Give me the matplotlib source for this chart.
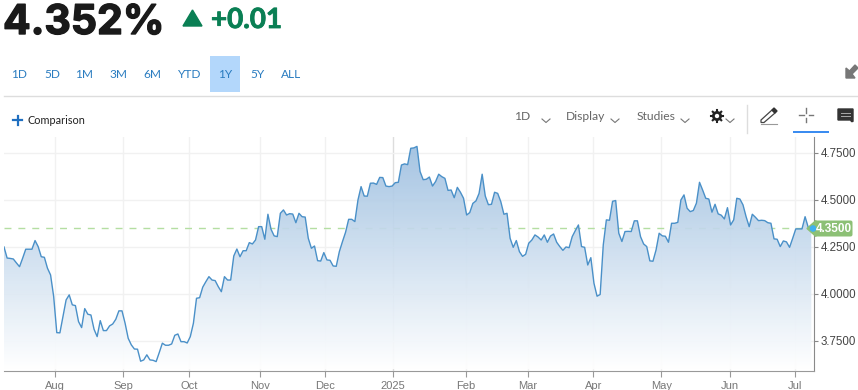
import matplotlib
matplotlib.use("Agg")
import matplotlib.pyplot as plt
import matplotlib.patheffects as pe
from matplotlib.patches import Polygon, Rectangle, FancyBboxPatch, Circle
import numpy as np

# daily yield
yields = [
    4.250, 4.191, 4.189, 4.186, 4.165, 4.145, 4.190, 4.238, 4.238, 4.238, 4.284, 4.252, 4.198, 4.195, 4.137,
    4.101, 3.986, 3.794, 3.793, 3.879, 3.968, 3.995, 3.942, 3.938, 3.853, 3.821, 3.922, 3.892, 3.888, 3.812,
    3.773, 3.858, 3.805, 3.805, 3.830, 3.840, 3.865, 3.910, 3.910, 3.844, 3.764, 3.729, 3.707, 3.706, 3.642,
    3.649, 3.676, 3.649, 3.647, 3.640, 3.688, 3.738, 3.727, 3.727, 3.734, 3.780, 3.787, 3.746, 3.746, 3.739,
    3.773, 3.844, 3.977, 3.980, 4.036, 4.065, 4.092, 4.074, 4.071, 4.039, 4.012, 4.092, 4.074, 4.074, 4.202,
    4.239, 4.198, 4.230, 4.230, 4.273, 4.266, 4.287, 4.358, 4.358, 4.291, 4.424, 4.344, 4.309, 4.305, 4.429,
    4.447, 4.420, 4.427, 4.425, 4.379, 4.429, 4.411, 4.409, 4.296, 4.243, 4.255, 4.177, 4.175, 4.220, 4.181,
    4.179, 4.149, 4.147, 4.225, 4.278, 4.328, 4.397, 4.397, 4.385, 4.500, 4.571, 4.521, 4.520, 4.589, 4.590,
    4.583, 4.620, 4.619, 4.574, 4.571, 4.574, 4.592, 4.594, 4.686, 4.692, 4.688, 4.775, 4.777, 4.785, 4.651,
    4.608, 4.610, 4.622, 4.574, 4.598, 4.637, 4.624, 4.615, 4.551, 4.553, 4.512, 4.567, 4.541, 4.509, 4.420,
    4.433, 4.482, 4.495, 4.535, 4.637, 4.521, 4.475, 4.477, 4.541, 4.535, 4.491, 4.424, 4.429, 4.296, 4.248,
    4.284, 4.225, 4.200, 4.211, 4.270, 4.287, 4.314, 4.303, 4.287, 4.314, 4.275, 4.308, 4.319, 4.275, 4.252,
    4.232, 4.250, 4.246,
    4.305, 4.337, 4.367, 4.252, 4.248, 4.154, 4.193, 4.057, 3.988, 3.997, 4.261, 4.394, 4.392, 4.493, 4.497,
    4.323, 4.279, 4.332, 4.333, 4.332, 4.389, 4.389, 4.305, 4.266, 4.252, 4.176, 4.174, 4.234, 4.323, 4.309,
    4.307, 4.275, 4.376, 4.376, 4.381, 4.500, 4.527, 4.456, 4.438, 4.444, 4.483, 4.594, 4.553, 4.509, 4.505,
    4.435, 4.477, 4.426, 4.419, 4.399, 4.459, 4.367, 4.394, 4.509, 4.505, 4.474, 4.411, 4.358, 4.424, 4.408,
    4.390, 4.392, 4.390, 4.379, 4.376, 4.293, 4.291, 4.252, 4.282, 4.277, 4.248, 4.296, 4.346, 4.346, 4.346,
    4.411, 4.355, 4.350,
]
month_labels = ["Aug", "Sep", "Oct", "Nov", "Dec", "2025", "Feb", "Mar", "Apr", "May", "Jun", "Jul"]
month_pos = [16.3, 38.4, 59.6, 82.6, 103.4, 125.3, 148.8, 168.7, 189.8, 211.7, 233.8, 254.7]
y_ticks = [3.75, 4.0, 4.25, 4.5, 4.75]
last_price = 4.35
ranges = ["1D", "5D", "1M", "3M", "6M", "YTD", "1Y", "5Y", "ALL"]
range_x = [19.5, 52, 84, 118, 152, 190, 225, 257, 291]

W, H = 858, 390
fig = plt.figure(figsize=(W / 100, H / 100), dpi=100)
plt.rcParams["font.family"] = ["Lato", "DejaVu Sans"]

# chart axes, placed in pixels
L, R, T, B = 4, 814, 137, 371
ax = fig.add_axes([L / W, 1 - B / H, (R - L) / W, (B - T) / H])
x = np.arange(len(yields))
xmax = 810 / 3.105

ax.spines["top"].set_visible(False)
ax.spines["left"].set_visible(False)
ax.spines["right"].set_color("#8a8a8a")
ax.spines["bottom"].set_color("#999999")
ax.yaxis.tick_right()
ax.set_yticks(y_ticks)
ax.set_yticklabels(["%.4f" % v for v in y_ticks], fontsize=8.3, color="#444444", family="Liberation Sans")
ax.set_xticks(month_pos)
ax.set_xticklabels(month_labels, fontsize=8, color="#777777", family="Liberation Sans")
ax.tick_params(axis="y", length=3, width=0.8, color="#888888", pad=2)
ax.tick_params(axis="x", length=4, width=0.8, color="#999999", pad=3)
ax.grid(True, color="#f1f1f1", linewidth=1)
ax.get_xgridlines()[5].set_color("#dddddd")
ax.set_axisbelow(True)

ax.axhline(last_price, color="#b4dea2", linewidth=1, dashes=(5, 5), zorder=1)

# gradient under the line
grad = np.linspace(0, 1, 256).reshape(-1, 1)
cm = matplotlib.colors.LinearSegmentedColormap.from_list("g", ["#9dbfe0", "#ffffff"])
im = ax.imshow(grad, extent=[0, xmax, 3.60, 4.80], aspect="auto", cmap=cm, alpha=0.92, zorder=2)
poly = Polygon(np.column_stack([np.r_[x[0], x, x[-1]], np.r_[3.590, yields, 3.590]]), closed=True,
               transform=ax.transData, facecolor="none", edgecolor="none")
ax.add_patch(poly)
im.set_clip_path(poly)
ax.set_xlim(0, xmax)
ax.set_ylim(3.590, 4.835)
ax.plot(x, yields, color="#4a90c8", linewidth=1.0, zorder=3)

# header and toolbar, pixel coordinates
ui = fig.add_axes([0, 0, 1, 1], zorder=5)
ui.set_xlim(0, W)
ui.set_ylim(H, 0)
ui.axis("off")
ui.patch.set_alpha(0)

big = ui.text(3, 34, "4.352%", fontsize=29.5, fontweight="bold", family="Inter", color="#1a1a1a", va="baseline")
big.set_path_effects([pe.withStroke(linewidth=1.0, foreground="#1a1a1a")])
ui.add_patch(Polygon([(183, 26), (202, 26), (192.5, 10)], color="#0a7f54"))
chg = ui.text(211, 28, "+0.01", fontsize=20, fontweight="bold", color="#0a7f54", va="baseline")
chg.set_path_effects([pe.withStroke(linewidth=0.6, foreground="#0a7f54")])

ui.add_patch(Rectangle((210, 56), 30, 36, color="#b3d7fb", lw=0))
for lab, px in zip(ranges, range_x):
    ui.text(px, 74, lab, fontsize=8.6, color="#2a7cc0", ha="center", va="center")
ui.plot([4, 858], [95.5, 95.5], color="#dddddd", lw=1)

ui.plot([13, 22], [120, 120], color="#1f6fc0", lw=1.6)
ui.plot([17.5, 17.5], [115.5, 124.5], color="#1f6fc0", lw=1.6)
ui.text(28, 120, "Comparison", fontsize=7.8, color="#222222", va="center")

for lab, px in [("1D", 522), ("Display", 586), ("Studies", 656)]:
    ui.text(px, 117, lab, fontsize=8.7, color="#666666", ha="center", va="center")
for px in [546, 615, 685, 730]:
    ui.plot([px - 4, px, px + 4], [119, 122.5, 119], color="#777777", lw=0.8)

# gear
ui.add_patch(Circle((717, 116), 3.6, fc="none", ec="#222222", lw=2))
for a in np.arange(0, 360, 45):
    ca, sa = np.cos(np.radians(a)), np.sin(np.radians(a))
    ui.plot([717 + 4 * ca, 717 + 6 * ca], [116 + 4 * sa, 116 + 6 * sa], color="#222222", lw=1.5)

ui.plot([746.5, 746.5], [105, 133], color="#dddddd", lw=1)

# pencil
ui.add_patch(Polygon([(761, 120), (772, 110), (775, 113), (764, 122.5), (761, 122.5)], fc="white", ec="#444444", lw=0.9))
ui.add_patch(Polygon([(772, 110), (774, 108), (777, 111), (775, 113)], color="#333333"))
ui.plot([761, 777], [123.5, 123.5], color="#999999", lw=0.8)

# crosshair
ui.plot([799, 803.5], [115, 115], color="#777777", lw=1)
ui.plot([808.5, 813], [115, 115], color="#777777", lw=1)
ui.plot([806, 806], [108, 112.5], color="#777777", lw=1)
ui.plot([806, 806], [117.5, 122], color="#777777", lw=1)
ui.add_patch(Rectangle((793, 130.5), 36, 2, color="#3b8cf0", lw=0))

# comment box
ui.add_patch(Polygon([(838, 109), (853, 109), (853, 121.5), (851.5, 121.5), (850.5, 120), (838, 120)], color="#333333"))
ui.plot([840.5, 850], [112.5, 112.5], color="#aaaaaa", lw=0.7)
ui.plot([840.5, 850], [115.5, 115.5], color="#aaaaaa", lw=0.7)

# expand arrow
ui.add_patch(Polygon([(846, 78), (846, 68), (849.5, 71), (855, 65), (858, 68), (852, 74), (855, 78)], color="#777777"))

# last price tag
ui.add_patch(FancyBboxPatch((815, 220.5), 37.5, 16, boxstyle="round,pad=0,rounding_size=2", fc="#8cc075", ec="none"))
ui.add_patch(Polygon([(807, 228.5), (816, 220.5), (816, 236.5)], color="#8cc075"))
ui.add_patch(Circle((813, 228.5), 2.6, color="#3fb0f0"))
ui.text(834, 228.7, "%.4f" % last_price, fontsize=8.5, color="white", ha="center", va="center",
        family="Liberation Sans", fontweight="bold")

fig.savefig("out.png", dpi=100)
